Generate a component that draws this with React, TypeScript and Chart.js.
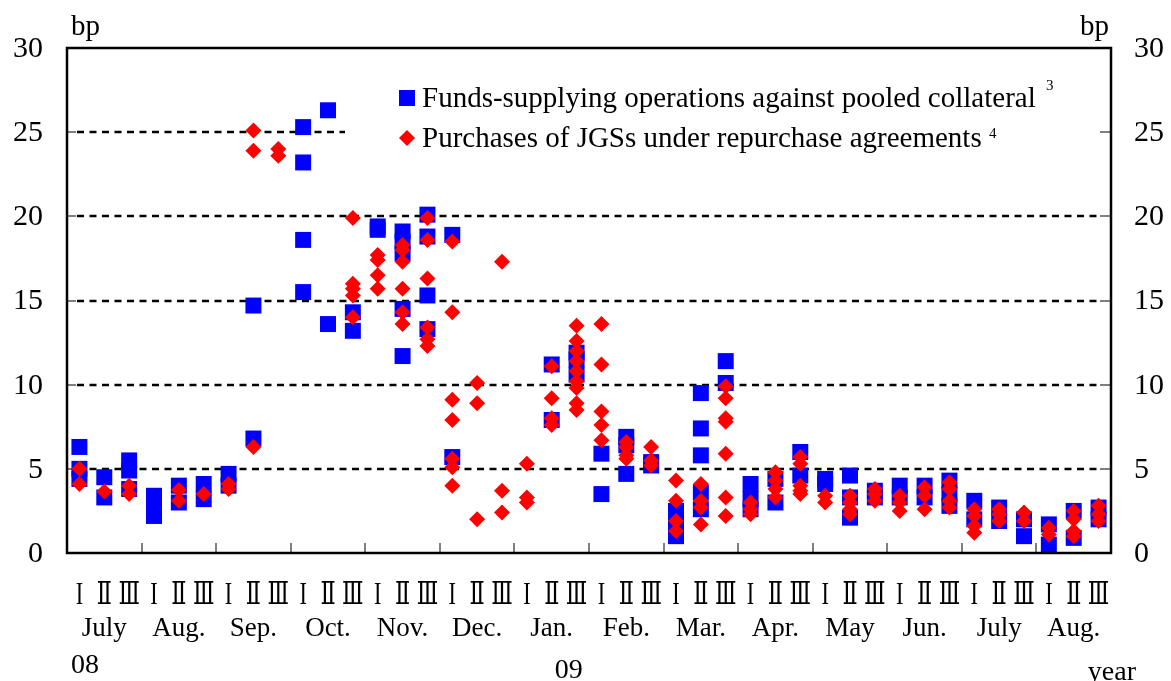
import { useEffect, useRef } from "react";
import { Chart, registerables } from "chart.js";

Chart.register(...registerables);

const dekadLabels = ["I", "Ⅱ", "Ⅲ"];
const monthLabels = ["July", "Aug.", "Sep.", "Oct.", "Nov.", "Dec.", "Jan.", "Feb.", "Mar.", "Apr.", "May", "Jun.", "July", "Aug."];
const yearLabels = ["08", "09"];
const yearLabelMonths = [0, 6];
const yearWord = "year";
const unitLabel = "bp";
const yTicks = [0, 5, 10, 15, 20, 25, 30];
const legendLabels = [
  "Funds-supplying operations against pooled collateral",
  "Purchases of JGSs under repurchase agreements",
];
const legendNotes = ["3", "4"];

// one inner list per ten-day period (I, II, III of each month), July 2008 – Aug. 2009
const fundsSupplying: number[][] = [
  [6.3, 5.0, 4.4], [4.5, 3.3], [5.5, 4.9, 3.8],
  [3.4, 2.8, 2.2], [4.0, 3.0], [4.1, 3.2],
  [4.7, 4.0], [14.7, 6.8], [],
  [25.3, 23.2, 18.6, 15.5], [26.3, 13.6], [14.3, 13.2],
  [19.4, 19.2], [19.1, 18.5, 17.8, 14.5, 11.7], [20.1, 18.8, 15.3, 13.3],
  [18.9, 5.7], [], [],
  [], [11.2, 7.9], [11.9, 11.5, 10.6],
  [5.9, 3.5], [6.9, 6.4, 4.7], [5.4, 5.2],
  [2.5, 1.6, 1.0], [9.5, 7.4, 5.8, 3.6, 2.6], [11.4, 10.1],
  [4.1, 3.2, 2.6], [4.4, 3.0], [6.0, 4.6],
  [4.4, 4.1], [4.6, 3.3, 2.1], [3.7, 3.3],
  [4.0, 3.3], [4.0, 3.3], [4.3, 3.5, 2.8],
  [3.1, 2.0], [2.7, 1.9], [2.0, 1.0],
  [1.7, 0.5], [2.5, 0.9], [2.7, 2.0],
];

const jgsRepo: number[][] = [
  [5.0, 4.1], [3.65], [4.0, 3.5],
  [], [3.75, 3.1], [3.5],
  [4.1, 3.8], [25.1, 23.9, 6.3], [24.0, 23.6],
  [], [], [19.9, 16.0, 15.7, 15.3, 14.0],
  [17.7, 17.4, 16.5, 15.7], [18.3, 18.0, 17.3, 15.7, 14.3, 13.6], [19.9, 18.6, 16.3, 13.4, 12.7, 12.3],
  [18.5, 14.3, 9.1, 7.9, 5.6, 5.1, 4.0], [10.1, 8.9, 2.0], [17.3, 3.7, 2.4],
  [5.3, 3.3, 3.0], [11.1, 9.2, 8.0, 7.6], [13.5, 12.6, 12.0, 11.4, 10.8, 10.2, 9.8, 8.9, 8.5],
  [13.6, 11.2, 8.4, 7.6, 6.7], [6.6, 6.3, 5.8, 5.6], [6.3, 5.5, 5.2],
  [4.3, 3.1, 1.9, 1.3], [4.1, 3.1, 2.7, 1.7], [9.9, 9.2, 8.0, 7.8, 5.9, 3.3, 2.2],
  [3.0, 2.6, 2.3], [4.8, 4.3, 3.8, 3.3], [5.7, 5.3, 4.0, 3.7, 3.5],
  [3.4, 3.0], [3.4, 3.0, 2.6, 2.3], [3.8, 3.5, 3.1],
  [3.4, 3.0, 2.5], [3.9, 3.4, 2.6], [4.2, 3.8, 3.1, 2.7],
  [2.6, 2.2, 1.6, 1.2], [2.6, 2.3, 1.9], [2.4, 1.9],
  [1.5, 1.1], [2.5, 2.0, 1.3, 1.0], [2.8, 2.3, 1.9],
];

const BLUE = "#0000ff";
const RED = "#ff0000";
const SERIF = '"Liberation Serif", "Times New Roman", serif';

function toPoints(series: number[][]) {
  const pts: { x: number; y: number }[] = [];
  series.forEach((vals, slot) => vals.forEach((v) => pts.push({ x: slot + 0.5, y: v })));
  return pts;
}

const decor = {
  id: "decor",
  beforeDatasetsDraw(chart: any) {
    const { ctx, chartArea: a, scales } = chart;
    const x = scales.x;
    const y = scales.y;
    ctx.save();
    // dashed horizontal grid
    ctx.strokeStyle = "#000";
    ctx.lineWidth = 2.5;
    ctx.setLineDash([7, 5.5]);
    yTicks.forEach((v) => {
      if (v <= y.min || v >= y.max) return;
      const py = Math.round(y.getPixelForValue(v));
      ctx.beginPath();
      ctx.moveTo(a.left + 10, py);
      ctx.lineTo(a.right - 10, py);
      ctx.stroke();
    });
    ctx.setLineDash([]);
    // legend box (hides the part of the 25 bp line behind the legend)
    ctx.fillStyle = "#fff";
    ctx.fillRect(345, 68, 755, 96);
    // inward ticks
    ctx.strokeStyle = "#555";
    ctx.lineWidth = 1.5;
    yTicks.forEach((v) => {
      const py = Math.round(y.getPixelForValue(v));
      ctx.beginPath();
      ctx.moveTo(a.left, py);
      ctx.lineTo(a.left + 9, py);
      ctx.moveTo(a.right - 11, py);
      ctx.lineTo(a.right, py);
      ctx.stroke();
    });
    for (let m = 1; m < monthLabels.length; m++) {
      const px = Math.round(x.getPixelForValue(m * 3));
      ctx.beginPath();
      ctx.moveTo(px, a.bottom);
      ctx.lineTo(px, a.bottom - 10);
      ctx.stroke();
    }
    const ds = chart.data.datasets;
    const mx = 407;
    const rows = [98, 138];
    ctx.fillStyle = ds[0].backgroundColor;
    ctx.fillRect(mx - 8, rows[0] - 8, 16, 16);
    ctx.fillStyle = ds[1].backgroundColor;
    ctx.beginPath();
    ctx.moveTo(mx - 8, rows[1]);
    ctx.lineTo(mx, rows[1] - 8);
    ctx.lineTo(mx + 8, rows[1]);
    ctx.lineTo(mx, rows[1] + 8);
    ctx.closePath();
    ctx.fill();
    ctx.fillStyle = "#000";
    ctx.textAlign = "left";
    ctx.textBaseline = "alphabetic";
    ctx.font = `29px ${SERIF}`;
    const w0 = ctx.measureText(legendLabels[0] + " ").width;
    const w1 = ctx.measureText(legendLabels[1] + " ").width;
    ctx.fillText(legendLabels[0], 422, 107);
    ctx.fillText(legendLabels[1], 422, 147);
    ctx.font = `15px ${SERIF}`;
    ctx.fillText(legendNotes[0], 422 + w0 + 3, 90);
    ctx.fillText(legendNotes[1], 422 + w1, 138);
    ctx.restore();
  },
  afterDatasetsDraw(chart: any) {
    const { ctx, chartArea: a, scales } = chart;
    const x = scales.x;
    const y = scales.y;
    ctx.save();
    ctx.strokeStyle = "#000";
    ctx.lineWidth = 2.5;
    ctx.strokeRect(a.left, a.top, a.right - a.left, a.bottom - a.top);
    ctx.fillStyle = "#000";
    ctx.font = `30px ${SERIF}`;
    ctx.textBaseline = "middle";
    yTicks.forEach((v) => {
      const py = y.getPixelForValue(v);
      ctx.textAlign = "right";
      ctx.fillText(String(v), 43, py + 1);
      ctx.textAlign = "left";
      ctx.fillText(String(v), 1134, py + 1);
    });
    ctx.font = `29px ${SERIF}`;
    ctx.textBaseline = "alphabetic";
    ctx.textAlign = "left";
    ctx.fillText(unitLabel, 71, 35);
    ctx.textAlign = "right";
    ctx.fillText(unitLabel, 1109, 35);
    // dekads (condensed serif Roman numerals)
    ctx.textAlign = "center";
    ctx.textBaseline = "middle";
    ctx.font = `31px ${SERIF}, "DejaVu Serif"`;
    for (let i = 0; i < monthLabels.length * 3; i++) {
      ctx.save();
      ctx.translate(x.getPixelForValue(i + 0.5), 596);
      ctx.scale(0.72, 1);
      ctx.fillText(dekadLabels[i % 3], 0, 0);
      ctx.restore();
    }
    ctx.font = `27px ${SERIF}`;
    monthLabels.forEach((m, k) => {
      ctx.fillText(m, x.getPixelForValue(k * 3 + 1.5), 629);
    });
    ctx.font = `28px ${SERIF}`;
    ctx.textAlign = "left";
    yearLabels.forEach((t, k) => {
      const mi = yearLabelMonths[k];
      const px = k === 0 ? x.getPixelForValue(mi * 3) + 4 : x.getPixelForValue(mi * 3 + 1.5) + 3;
      ctx.fillText(t, px, k === 0 ? 666 : 671);
    });
    ctx.textAlign = "right";
    ctx.fillText(yearWord, 1136, 673);
    ctx.restore();
  },
};

export default function App() {
  const ref = useRef<HTMLCanvasElement | null>(null);
  useEffect(() => {
    if (!ref.current) return;
    const chart = new Chart(ref.current, {
      type: "scatter",
      data: {
        datasets: [
          {
            label: legendLabels[0],
            data: toPoints(fundsSupplying),
            pointStyle: "rect",
            pointRadius: 11.3,
            pointHoverRadius: 11.3,
            backgroundColor: BLUE,
            borderWidth: 0,
            order: 2,
            clip: false,
          },
          {
            label: legendLabels[1],
            data: toPoints(jgsRepo),
            pointStyle: "rectRot",
            pointRadius: 8,
            pointHoverRadius: 8,
            backgroundColor: RED,
            borderWidth: 0,
            order: 1,
            clip: false,
          },
        ],
      } as any,
      options: {
        responsive: false,
        animation: false,
        events: [],
        layout: { padding: { left: 67, right: 60, top: 48, bottom: 128 } },
        scales: {
          x: { type: "linear", min: 0, max: 42, display: false },
          y: { type: "linear", min: 0, max: 30, display: false },
        },
        plugins: { legend: { display: false }, tooltip: { enabled: false } },
      } as any,
      plugins: [decor],
    });
    return () => chart.destroy();
  }, []);
  return (
    <div style={{ position: "fixed", left: 0, top: 0, width: 1171, height: 681, background: "#fff" }}>
      <canvas ref={ref} width={1171} height={681} style={{ display: "block", width: 1171, height: 681 }} />
    </div>
  );
}
